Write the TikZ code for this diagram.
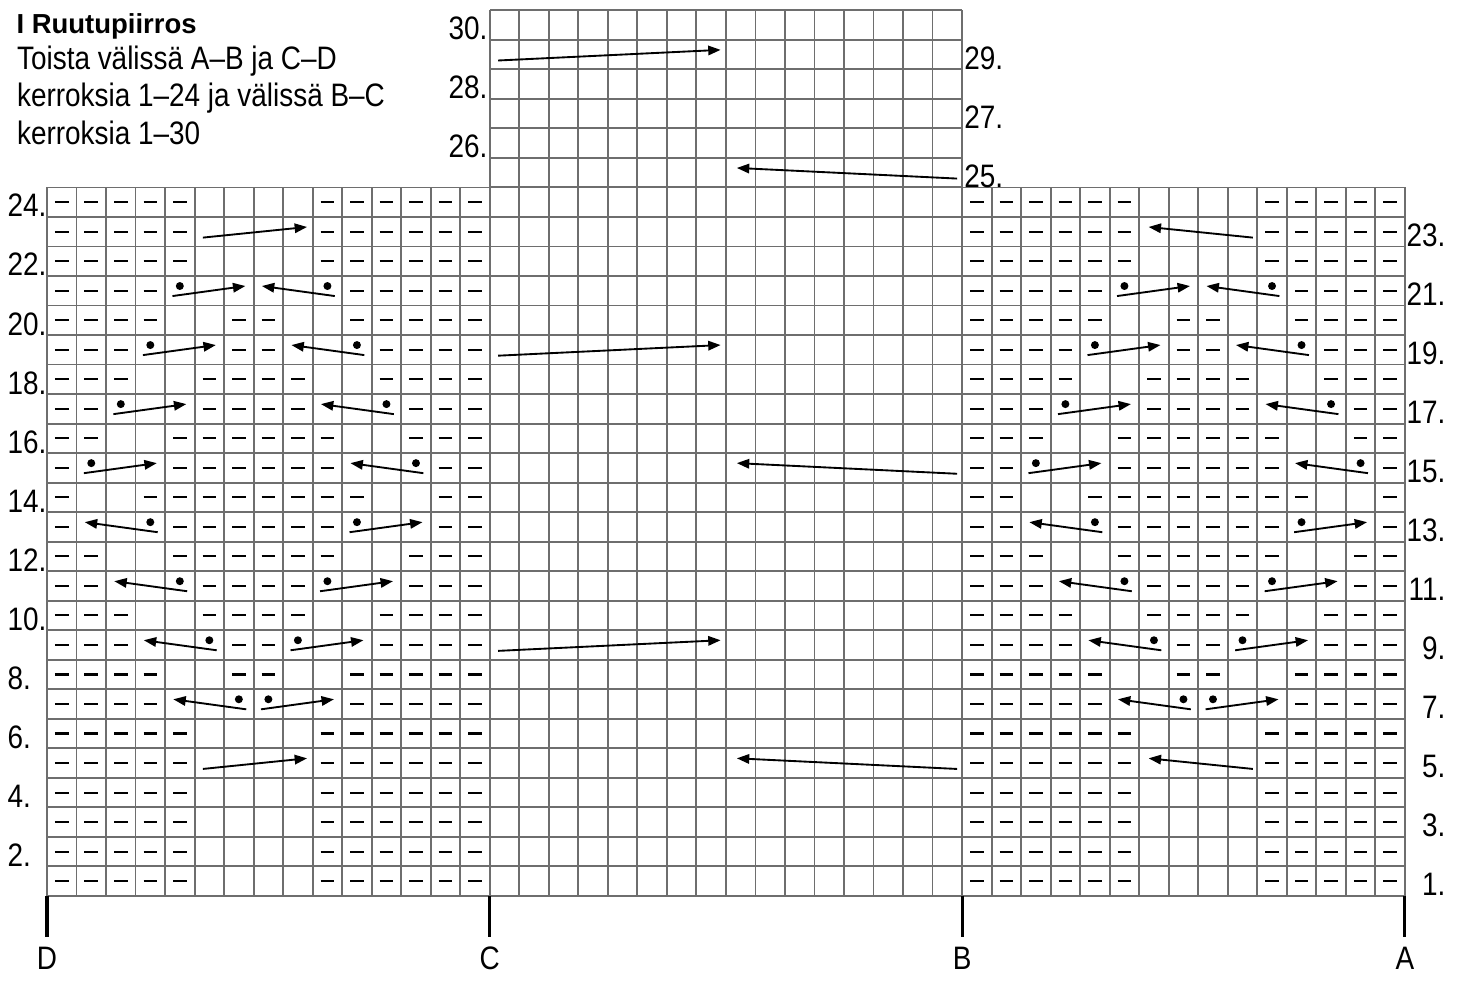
\documentclass[tikz,border=0pt]{standalone}
\usepackage{fontspec}
\setmainfont{Liberation Sans}[FakeStretch=0.86]
\newfontfamily\headfont{Liberation Sans}
\usetikzlibrary{arrows.meta}
\definecolor{gridgray}{RGB}{110,110,110}
\tikzset{
  chartgrid/.style={draw=gridgray, line width=1.8pt},
  purlmark/.style={line width=2pt},
  movearrow/.style={line width=1.8pt, -{Triangle[length=0.42cm,width=0.32cm]}},
  rowno/.style={inner sep=0pt, font=\fontsize{31.3}{36}\selectfont},
  edgemark/.style={line width=3pt},
}
\begin{document}
\begin{tikzpicture}
  \useasboundingbox (-1.592,-2.879) rectangle (47.97,30.35);
  % heading
  \node (title) [anchor=base west, inner sep=0pt, font=\headfont\bfseries\fontsize{26.5}{30}\selectfont] at (-1.04,29.23) {I Ruutupiirros};
  \node (note1) [rowno, anchor=base west] at (-1.02,27.98) {Toista välissä A–B ja C–D};
  \node (note2) [rowno, anchor=base west] at (-1.02,26.73) {kerroksia 1–24 ja välissä B–C};
  \node (note3) [rowno, anchor=base west] at (-1.02,25.46) {kerroksia 1–30};
  % grid
  \draw[chartgrid] (0,0) grid (15,24);
  \draw[chartgrid] (15,0) grid (31,30);
  \draw[chartgrid] (31,0) grid (46,24);
  % purl stitches, A-B mirrors C-D
  \foreach \rows/\cols in {
      {1,2,3,4,5,6,22,23,24}/{0,1,2,3,4,9,10,11,12,13,14},
      {7,21}/{0,1,2,3,10,11,12,13,14},
      {8,20}/{0,1,2,3,6,7,10,11,12,13,14},
      {9,19}/{0,1,2,6,7,11,12,13,14},
      {10,18}/{0,1,2,5,6,7,8,11,12,13,14},
      {11,17}/{0,1,5,6,7,8,12,13,14},
      {12,16}/{0,1,4,5,6,7,8,9,12,13,14},
      {13,15}/{0,4,5,6,7,8,9,13,14},
      {14}/{0,3,4,5,6,7,8,9,10,13,14}}
    \foreach \r in \rows
      \foreach \c in \cols {
        \draw[purlmark] (\c+0.27,\r-0.5) -- (\c+0.73,\r-0.5);
        \draw[purlmark] (45.27-\c,\r-0.5) -- (45.73-\c,\r-0.5);
      }
  % moved stitches
  \foreach \r/\c/\d in {7/6/-1, 7/7/1, 9/5/-1, 9/8/1, 11/4/-1, 11/9/1, 13/3/-1, 13/10/1,
                        15/1/1, 15/12/-1, 17/2/1, 17/11/-1, 19/3/1, 19/10/-1, 21/4/1, 21/9/-1} {
    \fill (\c+0.5,\r-0.34) circle (0.135);
    \draw[movearrow] ({\c+0.5-0.25*(\d)},\r-0.68) -- ({\c+0.5+2.22*(\d)},\r-0.34);
    \fill (45.5-\c,\r-0.34) circle (0.135);
    \draw[movearrow] ({45.5-\c+0.25*(\d)},\r-0.68) -- ({45.5-\c-2.22*(\d)},\r-0.34);
  }
  \foreach \r in {5,23} {
    \draw[movearrow] (5.28,\r-0.7) -- (8.81,\r-0.34);
    \draw[movearrow] (40.85,\r-0.7) -- (37.32,\r-0.34);
  }
  \foreach \r in {9,19,29}
    \draw[movearrow] (15.28,\r-0.7) -- (22.82,\r-0.34);
  \foreach \r in {5,15,25}
    \draw[movearrow] (30.83,\r-0.7) -- (23.37,\r-0.34);
  % row numbers
  \foreach \r in {2,4,...,24}
    \node (l\r) [rowno, anchor=base west] at (-1.34,\r-1) {\r.};
  \foreach \r in {1,3,...,23}
    \node (r\r) [rowno, anchor=base east] at (47.38,\r-1) {\r.};
  \foreach \r in {26,28,30}
    \node (l\r) [rowno, anchor=base east] at (14.93,\r-1) {\r.};
  \foreach \r in {25,27,29}
    \node (r\r) [rowno, anchor=base west] at (31.07,\r-1) {\r.};
  % repeat marks
  \foreach \x/\m in {0/D,15/C,31/B,46/A} {
    \draw[edgemark] (\x,0) -- (\x,-1.38);
    \node (\m) [rowno, anchor=base] at (\x,-2.507) {\m};
  }
\end{tikzpicture}
\end{document}
